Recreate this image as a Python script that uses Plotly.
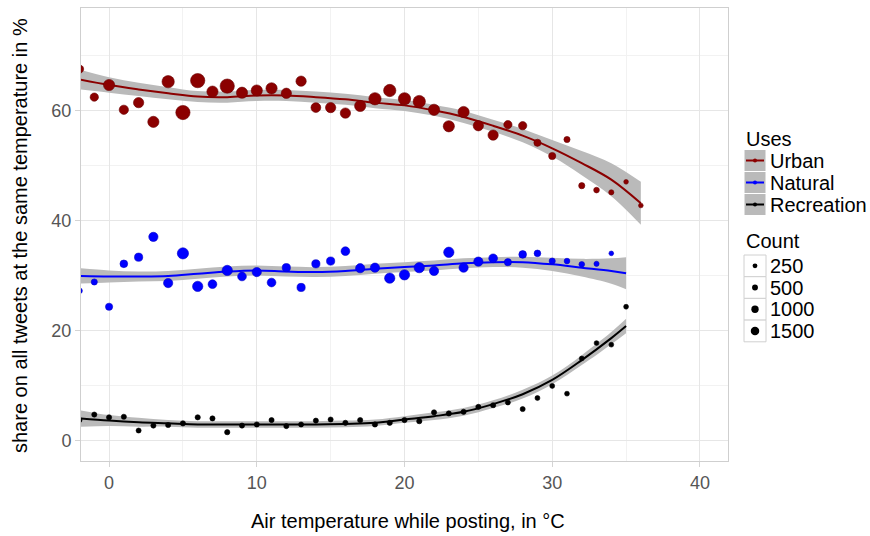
import numpy as np
import plotly.graph_objects as go

# ---------------- data ----------------
urban_temp = [-2, -1, 0, 1, 2, 3, 4, 5, 6, 7, 8, 9, 10, 11, 12, 13, 14, 15, 16, 17, 18,
              19, 20, 21, 22, 23, 24, 25, 26, 27, 28, 29, 30, 31, 32, 33, 34, 35, 36]
urban_share = [67.6, 62.5, 64.7, 60.2, 61.5, 58.0, 65.3, 59.7, 65.5, 63.5, 64.5, 63.3, 63.7,
               64.1, 63.2, 65.4, 60.6, 60.6, 59.6, 60.9, 62.2, 63.7, 62.2, 61.7, 60.2, 57.2,
               59.8, 57.3, 55.6, 57.5, 57.3, 54.2, 51.8, 54.8, 46.4, 45.6, 45.2, 47.1, 42.8]
urban_count = [1400, 1400, 3100, 1900, 2500, 3100, 3900, 5600, 5600, 3100, 5600, 3100, 3100,
               3100, 2500, 2500, 2200, 2500, 2500, 3100, 3900, 3900, 3900, 3900, 3100, 3100,
               3100, 2500, 2500, 1400, 1400, 940, 940, 590, 590, 440, 320, 220, 220]

natural_temp = [-2, -1, 0, 1, 2, 3, 4, 5, 6, 7, 8, 9, 10, 11, 12, 13, 14, 15, 16, 17, 18,
                19, 20, 21, 22, 23, 24, 25, 26, 27, 28, 29, 30, 31, 32, 33, 34]
natural_share = [27.3, 28.9, 24.4, 32.2, 33.4, 37.1, 28.7, 34.1, 28.1, 28.5, 31.0, 29.9, 30.7,
                 28.8, 31.5, 27.9, 32.2, 32.7, 34.5, 31.4, 31.5, 29.6, 30.2, 31.5, 30.9, 34.3,
                 31.5, 32.6, 33.2, 32.5, 33.9, 34.1, 32.7, 32.7, 32.1, 32.2, 34.1]
natural_count = [450, 590, 940, 1140, 1370, 1880, 1880, 3100, 2500, 1610, 2500, 1610, 1880,
                 1610, 1370, 1370, 1370, 1370, 1610, 1880, 1880, 2500, 2500, 2500, 1880, 2500,
                 1880, 1880, 1610, 940, 1140, 750, 590, 440, 440, 320, 220]

rec_temp = [-2, -1, 0, 1, 2, 3, 4, 5, 6, 7, 8, 9, 10, 11, 12, 13, 14, 15, 16, 17, 18,
            19, 20, 21, 22, 23, 24, 25, 26, 27, 28, 29, 30, 31, 32, 33, 34, 35]
rec_share = [3.8, 4.8, 4.3, 4.4, 1.9, 2.8, 2.9, 3.2, 4.3, 4.1, 1.6, 2.8, 3.0, 3.8, 2.7, 3.0,
             3.7, 3.9, 3.3, 3.8, 3.0, 3.3, 3.8, 3.6, 5.2, 5.0, 5.3, 6.2, 6.5, 7.0, 5.8, 7.8,
             10.0, 8.6, 15.0, 17.8, 17.5, 24.4]
rec_count = [300, 320, 330, 320, 300, 310, 320, 340, 340, 320, 340, 320, 320, 320, 310, 310,
             310, 310, 320, 330, 340, 340, 340, 340, 330, 330, 330, 320, 320, 300, 300, 280,
             280, 260, 260, 250, 250, 260]

# smoothed fits (loess) and their confidence half-widths
urban_fit_x = [-2, 0, 2, 4, 6, 8, 10, 12, 14, 16, 18, 20, 22, 24, 26, 28, 30, 32, 34, 36]
urban_fit = [65.7, 64.7, 63.9, 63.2, 62.6, 62.5, 62.8, 62.8, 62.5, 62.1, 61.5, 61.0, 60.1,
             58.9, 57.3, 55.5, 53.2, 50.5, 47.5, 43.2]
urban_se = [1.8, 1.4, 1.2, 1.1, 1.0, 1.0, 1.0, 1.0, 1.0, 1.0, 1.0, 1.0, 1.0, 1.1, 1.1, 1.2,
            1.5, 2.2, 3.0, 3.9]

natural_fit_x = [-2, 0, 2, 4, 6, 8, 10, 12, 14, 16, 18, 20, 22, 24, 26, 28, 30, 32, 34, 35]
natural_fit = [30.0, 29.9, 29.9, 30.0, 30.4, 30.8, 31.0, 30.8, 30.7, 30.9, 31.3, 31.6, 31.9,
               32.3, 32.5, 32.5, 32.1, 31.5, 30.9, 30.5]
natural_se = [1.4, 1.1, 0.9, 0.9, 0.9, 0.9, 0.9, 0.9, 0.9, 0.9, 0.9, 0.9, 0.9, 0.9, 0.9, 1.0,
              1.2, 1.6, 2.3, 2.9]

rec_fit_x = [-2, 0, 2, 4, 6, 8, 10, 12, 14, 16, 18, 20, 22, 24, 26, 28, 30, 32, 34, 35]
rec_fit = [4.1, 3.7, 3.4, 3.2, 3.0, 3.0, 3.0, 3.0, 3.0, 3.1, 3.3, 3.9, 4.5, 5.3, 6.7, 8.5,
           11.1, 14.7, 18.7, 20.9]
rec_se = [1.5, 1.0, 0.8, 0.6, 0.6, 0.6, 0.6, 0.6, 0.6, 0.6, 0.6, 0.6, 0.7, 0.7, 0.7, 0.8,
          0.8, 0.9, 1.1, 1.3]

x_ticks = [0, 10, 20, 30, 40]
y_ticks = [0, 20, 40, 60]
use_names = ["Urban", "Natural", "Recreation"]
count_breaks = [250, 500, 1000, 1500]

# ---------------- styling ----------------
COLORS = {"Urban": "#8b0000", "Natural": "#0000ff", "Recreation": "#000000"}
EDGES = {"Urban": "#6a0000", "Natural": "#0000c8", "Recreation": "#000000"}
BAND = "rgb(186,186,186)"
FONT = "Liberation Sans, Arial, sans-serif"


def diam(c):
    # ggplot-like area scale: diameter linear in sqrt(count)
    return 2.3 + 0.16 * np.sqrt(np.asarray(c, dtype=float))


W, H = 870, 536
L, R, T, B = 81, 728, 8, 461


def px_x(p):
    return (p - L) / (R - L)


def px_y(p):
    return (B - p) / (B - T)


series = [
    ("Urban", urban_temp, urban_share, urban_count, urban_fit_x, urban_fit, urban_se),
    ("Natural", natural_temp, natural_share, natural_count, natural_fit_x, natural_fit, natural_se),
    ("Recreation", rec_temp, rec_share, rec_count, rec_fit_x, rec_fit, rec_se),
]

fig = go.Figure()

# confidence bands
for name, tx, sh, cnt, fx, fy, se in series:
    lo = [a - b for a, b in zip(fy, se)]
    hi = [a + b for a, b in zip(fy, se)]
    fig.add_trace(go.Scatter(x=fx, y=lo, mode="lines", line=dict(width=0, shape="spline"),
                             showlegend=False, hoverinfo="skip"))
    fig.add_trace(go.Scatter(x=fx, y=hi, mode="lines", line=dict(width=0, shape="spline"),
                             fill="tonexty", fillcolor=BAND, showlegend=False, hoverinfo="skip"))

# fitted lines
for name, tx, sh, cnt, fx, fy, se in series:
    fig.add_trace(go.Scatter(x=fx, y=fy, mode="lines",
                             line=dict(color=COLORS[name], width=2, shape="spline"),
                             showlegend=False, hoverinfo="skip"))

# points
for name, tx, sh, cnt, fx, fy, se in series:
    fig.add_trace(go.Scatter(x=tx, y=sh, mode="markers", name=name,
                             marker=dict(color=COLORS[name], size=diam(cnt), opacity=1,
                                         sizemode="diameter",
                                         line=dict(width=0.6, color=EDGES[name])),
                             showlegend=False, cliponaxis=True))

axis_common = dict(showline=True, mirror=True, linecolor="#cfcfcf", linewidth=1,
                   gridcolor="#e6e6e6", gridwidth=1, zeroline=False,
                   ticks="outside", ticklen=5, tickcolor="#d4d4d4",
                   tickfont=dict(family=FONT, size=18, color="#555555"))

fig.update_xaxes(range=[-1.9, 41.9], tickvals=x_ticks, ticktext=[str(v) for v in x_ticks],
                 minor=dict(dtick=5, tick0=0, showgrid=True, gridcolor="#f2f2f2", ticks=""),
                 **axis_common)
fig.update_yaxes(range=[-3.64, 78.7], tickvals=y_ticks, ticktext=[str(v) for v in y_ticks],
                 minor=dict(dtick=10, tick0=0, showgrid=True, gridcolor="#f2f2f2", ticks=""),
                 **axis_common)

shapes = []
annotations = []

# axis titles
annotations.append(dict(text="Air temperature while posting, in °C", xref="paper", yref="paper",
                        x=px_x(408), y=px_y(521), xanchor="center", yanchor="middle",
                        showarrow=False, font=dict(family=FONT, size=20, color="#000000")))
annotations.append(dict(text="share on all tweets at the same temperature in %", xref="paper",
                        yref="paper", x=px_x(20), y=px_y(236), xanchor="center",
                        yanchor="middle", textangle=-90, showarrow=False,
                        font=dict(family=FONT, size=20, color="#000000")))

# legend: Uses
KX0, KX1 = 744, 766
annotations.append(dict(text="Uses", xref="paper", yref="paper", x=px_x(744), y=px_y(139),
                        xanchor="left", yanchor="middle", showarrow=False,
                        font=dict(family=FONT, size=20, color="#000000")))
for i, name in enumerate(use_names):
    y0 = 149.5 + i * 22
    y1 = y0 + 22
    yc = (y0 + y1) / 2
    shapes.append(dict(type="rect", xref="paper", yref="paper", x0=px_x(KX0), x1=px_x(KX1),
                       y0=px_y(y1), y1=px_y(y0), fillcolor=BAND,
                       line=dict(color="#ffffff", width=1), layer="above"))
    shapes.append(dict(type="line", xref="paper", yref="paper", x0=px_x(KX0 + 2),
                       x1=px_x(KX1 - 2), y0=px_y(yc), y1=px_y(yc),
                       line=dict(color=COLORS[name], width=2), layer="above"))
    shapes.append(dict(type="circle", xref="paper", yref="paper", x0=px_x(755 - 2),
                       x1=px_x(755 + 2), y0=px_y(yc + 2), y1=px_y(yc - 2),
                       fillcolor=COLORS[name], line=dict(width=0), layer="above"))
    annotations.append(dict(text=name, xref="paper", yref="paper", x=px_x(768), y=px_y(yc),
                            xanchor="left", yanchor="middle", showarrow=False,
                            font=dict(family=FONT, size=20, color="#000000")))

# legend: Count
annotations.append(dict(text="Count", xref="paper", yref="paper", x=px_x(744), y=px_y(241),
                        xanchor="left", yanchor="middle", showarrow=False,
                        font=dict(family=FONT, size=20, color="#000000")))
for i, c in enumerate(count_breaks):
    y0 = 255 + i * 21.7
    y1 = y0 + 21.7
    yc = (y0 + y1) / 2
    shapes.append(dict(type="rect", xref="paper", yref="paper", x0=px_x(KX0), x1=px_x(KX1),
                       y0=px_y(y1), y1=px_y(y0), fillcolor="#ffffff",
                       line=dict(color="#d0d0d0", width=1), layer="above"))
    r = float(diam(c)) / 2
    shapes.append(dict(type="circle", xref="paper", yref="paper", x0=px_x(755 - r),
                       x1=px_x(755 + r), y0=px_y(yc + r), y1=px_y(yc - r),
                       fillcolor="#000000", line=dict(width=0), layer="above"))
    annotations.append(dict(text=str(c), xref="paper", yref="paper", x=px_x(768), y=px_y(yc),
                            xanchor="left", yanchor="middle", showarrow=False,
                            font=dict(family=FONT, size=20, color="#000000")))

fig.update_layout(width=W, height=H, margin=dict(l=L, r=W - R, t=T, b=H - B),
                  plot_bgcolor="#ffffff", paper_bgcolor="#ffffff", showlegend=False,
                  shapes=shapes, annotations=annotations,
                  font=dict(family=FONT))

fig.write_html("out.html", config={"displayModeBar": False},
               post_script="document.body.style.margin='0px';document.body.style.overflow='hidden';")
